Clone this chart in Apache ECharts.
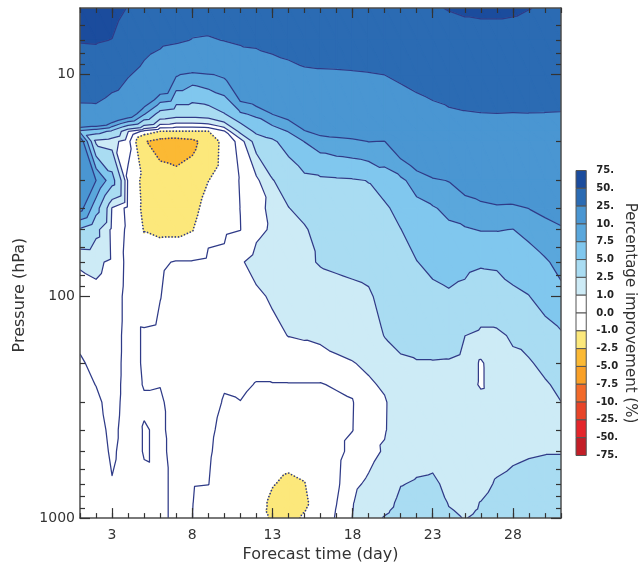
<!DOCTYPE html>
<html><head><meta charset="utf-8">
<script src="https://cdn.jsdelivr.net/npm/echarts@6/dist/echarts.min.js"></script>
<style>html,body{margin:0;padding:0;background:#fff}#chart{width:638px;height:568px}</style>
</head><body><div id="chart"></div>
<script>
// ---- data ----
const days = [1,2,3,4,5,6,7,8,9,10,11,12,13,14,15,16,17,18,19,20,21,22,23,24,25,26,27,28,29,30,31];
const pressures = [5,7,10,15,18,20,30,40,50,70,100,150,200,250,300,400,500,700,850,925,1000];
// vertical profiles of percentage improvement, one per forecast day (top 5 hPa -> bottom 1000 hPa)
const d01 = [62,51,38,20,7,12,15,11,4.6,1.1,0.65,0.2,-0.1,-0.3,-0.4,-0.5,-0.5,-0.5,-0.5,-0.5,-0.5];
const d02 = [60,51.5,38.6,20.2,6,2,10,6,3,1.2,0.8,0.5,0.2,0.02,-0.2,-0.4,-0.5,-0.6,-0.6,-0.6,-0.6];
const d03 = [58,49.5,33,15.5,4.5,1.5,6,0.9,0.7,0.8,0.6,0.5,0.45,0.4,0.35,0.25,0.15,-0.05,-0.3,-0.35,-0.4];
const d04 = [49,38,26,12.7,1.05,0.3,-0.2,-0.3,-0.2,-0.3,-0.35,-0.35,-0.35,-0.35,-0.35,-0.4,-0.4,-0.45,-0.5,-0.5,-0.5];
const d05 = [42,31,20.7,7.8,-0.3,-2.4,-1.3,-1.2,-1.05,-0.6,-0.4,0.1,0.1,0.05,-0.1,0.05,0.05,-0.15,-0.4,-0.4,-0.4];
const d06 = [36,28,16,4.0,-1.02,-3.0,-2.0,-1.6,-1.3,-0.1,-0.02,0.15,0.15,0.02,-0.1,-0.1,-0.1,-0.1,-0.1,-0.1,-0.1];
const d07 = [34,26.5,10.3,3.4,-1.05,-3.2,-2.1,-1.6,-1.3,0.05,0.3,0.4,0.4,0.35,0.3,0.2,0.15,0.1,0.1,0.1,0.1];
const d08 = [30,24.6,9,3.4,-1.05,-2.9,-1.8,-1.4,-1.05,0.05,0.35,0.4,0.4,0.35,0.3,0.2,0.1,0.05,0.02,0.01,0.01];
const d09 = [30,24.2,9.7,3.7,-1.02,-1.8,-1.02,-0.5,-0.2,0.15,0.35,0.4,0.35,0.3,0.25,0.15,0.1,0.02,-0.3,-0.35,-0.4];
const d10 = [30,25.2,10.5,4.9,-0.1,-0.6,-0.5,-0.35,-0.15,0.2,0.4,0.45,0.35,0.05,-0.05,-0.2,-0.3,-0.45,-0.5,-0.5,-0.5];
const d11 = [31,26.5,16,7.2,3.0,0.3,0.05,0.01,-0.02,0.9,0.75,0.6,0.45,0.2,-0.02,-0.3,-0.4,-0.5,-0.6,-0.6,-0.6];
const d12 = [32,27,18.5,8,5.6,3.3,0.7,0.75,0.8,1.3,0.85,0.6,0.3,-0.05,-0.3,-0.5,-0.6,-0.7,-0.8,-0.85,-0.85];
const d13 = [33,28,20.5,10.1,6.2,4.6,2.4,1.2,1.1,1.6,1.1,0.8,0.5,-0.05,-0.3,-0.6,-0.75,-0.97,-1.1,-1.1,-1.05];
const d14 = [34,29,22,11.3,7.6,6.0,3.4,2.45,1.64,1.94,1.3,1.02,0.6,-0.05,-0.4,-0.65,-0.8,-1.1,-1.25,-1.3,-1.25];
const d15 = [35,30,23.5,14,9.8,7.55,4.4,3.1,2.3,2.27,1.5,1.1,0.55,-0.05,-0.35,-0.6,-0.75,-1.02,-1.1,-1.02,-0.9];
const d16 = [35,30,23.9,15,11,8.7,4.6,3.6,3.2,2.6,1.9,1.25,0.5,-0.05,-0.3,-0.5,-0.6,-0.65,-0.7,-0.7,-0.7];
const d17 = [36,30.5,24,15,11.2,9.2,4.7,4.0,3.6,2.7,2.1,1.4,0.8,0.1,-0.2,-0.3,-0.3,-0.2,-0.02,0.05,0.1];
const d18 = [37,31,24.2,15.5,11.5,9.5,4.8,4.2,3.8,2.8,2.2,1.6,0.95,0.2,-0.05,-0.02,0.3,0.8,0.95,0.98,1.02];
const d19 = [38,31.5,24.5,16,12,10.05,5.05,4.5,4.0,3.0,2.3,1.8,1.2,0.85,0.8,0.75,0.7,1.15,1.5,1.7,1.9];
const d20 = [39,32,25.05,16.5,12.5,9.95,6.2,4.6,4.2,3.5,3.0,2.55,1.8,1.15,0.9,0.92,1.1,1.6,2.0,2.3,2.6];
const d21 = [40,33,27,18.4,14.5,12.4,7.0,5.8,4.95,4.0,3.4,2.9,2.3,1.9,1.6,1.6,1.85,2.45,2.8,2.9,3.0];
const d22 = [41,34,29,20.3,16.6,14.5,8.5,6.8,6.0,4.95,4.1,3.2,2.4,2.0,1.8,1.8,2.1,2.6,2.9,3.0,3.1];
const d23 = [48,35,31,21.9,18.4,16.4,9.6,7.3,6.6,5.5,4.5,3.3,2.4,2.1,2.0,2.0,2.2,2.65,3.0,3.05,3.1];
const d24 = [51,41,33.8,23.2,19.7,17.8,10.1,8.0,7.1,5.8,4.75,3.4,2.35,1.95,1.9,1.9,2.1,2.3,2.45,2.55,2.6];
const d25 = [53,42,34,24.2,21,19,11.5,8.7,7.3,5.6,4.4,2.52,2.1,1.85,1.8,1.8,1.9,2.1,2.3,2.4,2.48];
const d26 = [54,42,35,24.7,21.5,19.7,12.5,9.2,7.6,5.3,3.6,2.2,0.8,0.8,1.6,1.8,1.9,2.2,2.52,2.55,2.6];
const d27 = [54,42,35,24.9,21.8,20,13,9.6,7.6,5.4,3.8,2.2,1.9,1.8,1.75,1.8,2.1,2.6,2.85,2.95,3.0];
const d28 = [53,42,35,24.7,21.6,19.9,13.2,9.5,7.45,5.8,4.6,2.7,2.2,1.9,1.85,1.9,2.3,2.75,3.0,3.1,3.15];
const d29 = [50.5,41,34,24.8,22,20.4,14,10.05,8.2,6.4,4.95,3.3,2.3,2.0,1.95,2.05,2.4,2.85,3.1,3.2,3.25];
const d30 = [48,41,33.5,24.7,22,20.6,14.8,10.7,9.1,7.2,5.9,4.1,3.0,2.3,2.2,2.3,2.45,2.9,3.2,3.3,3.35];
const d31 = [47,40,33,24.5,22,20.7,15.3,11.3,9.7,8.2,6.9,4.7,3.6,2.9,2.48,2.35,2.45,3.0,3.25,3.35,3.4];

const contourLevels = [50,25,10,7.5,5,2.5,1,0,-1,-2.5,-5,-7.5,-10,-25,-50];
const bandEdges = [75,50,25,10,7.5,5,2.5,1,0,-1,-2.5,-5,-7.5,-10,-25,-50,-75];
const bandColors = ['#1b4c9d','#2b6bb3','#4a96d2','#5aa7dc','#80c7ee','#a9dcf2','#cdebf6','#ffffff','#ffffff','#fce87b','#fbb934','#f9a027','#f26a2a','#e84428','#e4262b','#c31e27'];
const colorbarLabels = ['75.','50.','25.','10.','7.5','5.0','2.5','1.0','0.0','-1.0','-2.5','-5.0','-7.5','-10.','-25.','-50.','-75.'];
const xTickDays = [3,8,13,18,23,28];
const yTickPressures = [10,100,1000];
const yMinorPressures = [6,7,8,9,20,30,40,50,60,70,80,90,200,300,400,500,600,700,800,900];

// ---- build triangles in (day, log10 p) space ----
const profiles = [d01,d02,d03,d04,d05,d06,d07,d08,d09,d10,d11,d12,d13,d14,d15,d16,d17,d18,d19,d20,d21,d22,d23,d24,d25,d26,d27,d28,d29,d30,d31];
const nodes = days.map((d, i) => pressures.map((p, j) => ({x: d, y: Math.log10(p), v: profiles[i][j]})));
const tris = [];
for (let i = 0; i < days.length - 1; i++) {
  for (let j = 0; j < pressures.length - 1; j++) {
    const A = nodes[i][j], B = nodes[i+1][j], C = nodes[i+1][j+1], D = nodes[i][j+1];
    tris.push([A, B, C], [A, C, D]);
  }
}
function clipPoly(poly, level, keepAbove) {
  const out = [];
  for (let k = 0; k < poly.length; k++) {
    const a = poly[k], b = poly[(k + 1) % poly.length];
    const ina = keepAbove ? a.v >= level : a.v <= level;
    const inb = keepAbove ? b.v >= level : b.v <= level;
    if (ina) out.push(a);
    if (ina !== inb) {
      const t = (level - a.v) / (b.v - a.v);
      out.push({x: a.x + t * (b.x - a.x), y: a.y + t * (b.y - a.y), v: level});
    }
  }
  return out;
}
const fillPolys = [];
tris.forEach(tri => {
  const vs = tri.map(n => n.v);
  const vmin = Math.min(...vs), vmax = Math.max(...vs);
  for (let k = 0; k < bandColors.length; k++) {
    const hi = k === 0 ? Infinity : bandEdges[k];
    const lo = k === bandColors.length - 1 ? -Infinity : bandEdges[k + 1];
    if (vmax < lo || vmin > hi) continue;
    let p = tri;
    if (lo > -Infinity) p = clipPoly(p, lo, true);
    if (p.length >= 3 && hi < Infinity) p = clipPoly(p, hi, false);
    if (p.length >= 3) fillPolys.push({band: k, pts: p.map(q => [q.x, q.y])});
  }
});
// contour segments, chained into polylines
function triSegment(tri, L) {
  const pts = [];
  for (let k = 0; k < 3; k++) {
    const a = tri[k], b = tri[(k + 1) % 3];
    if ((a.v >= L) !== (b.v >= L)) {
      const t = (L - a.v) / (b.v - a.v);
      pts.push([a.x + t * (b.x - a.x), a.y + t * (b.y - a.y)]);
    }
  }
  return pts.length === 2 ? pts : null;
}
const keyOf = p => p[0].toFixed(6) + '_' + p[1].toFixed(6);
function chain(segs) {
  const adj = new Map();
  segs.forEach((s, idx) => s.forEach(pt => {
    const k = keyOf(pt); if (!adj.has(k)) adj.set(k, []); adj.get(k).push(idx);
  }));
  const used = new Array(segs.length).fill(false);
  const lines = [];
  for (let s0 = 0; s0 < segs.length; s0++) {
    if (used[s0]) continue;
    used[s0] = true;
    const line = [segs[s0][0], segs[s0][1]];
    for (let dir = 0; dir < 2; dir++) {
      while (true) {
        const end = line[line.length - 1];
        const ek = keyOf(end);
        const cand = adj.get(ek).find(id => !used[id]);
        if (cand === undefined) break;
        used[cand] = true;
        const s = segs[cand];
        line.push(keyOf(s[0]) === ek ? s[1] : s[0]);
      }
      line.reverse();
    }
    lines.push(line);
  }
  return lines;
}
const contourLines = [];
contourLevels.forEach(L => {
  const segs = [];
  tris.forEach(tri => { const s = triSegment(tri, L); if (s) segs.push(s); });
  chain(segs).forEach(pts => contourLines.push({level: L, pts}));
});

// ---- chart ----
const FONT = 'DejaVu Sans';
const AX = '#4d4d4d';
const yMin = Math.log10(5), yMax = 3;
const gridMain = {left: 80, top: 8, width: 481, height: 513.5};
const baseX = {type: 'value', gridIndex: 0, min: 1, max: 31, z: 10, splitLine: {show: false}};
const baseY = {type: 'value', gridIndex: 0, min: yMin, max: yMax, inverse: true, z: 10, splitLine: {show: false}};
const tickStyle = {color: '#333', width: 1.2};

const option = {
  animation: false,
  backgroundColor: '#fff',
  grid: [gridMain, {left: 576, top: 170.5, width: 14, height: 285}],
  xAxis: [
    Object.assign({}, baseX, {position: 'bottom',
      axisLine: {show: true, onZero: false, lineStyle: {color: AX, width: 1.5}},
      axisTick: {show: true, inside: true, length: 10, customValues: xTickDays, lineStyle: tickStyle},
      axisLabel: {show: true, customValues: xTickDays, margin: 10, fontSize: 14, color: '#333', fontFamily: FONT},
      name: 'Forecast time (day)', nameLocation: 'middle', nameGap: 26,
      nameTextStyle: {fontSize: 16, color: '#333', fontFamily: FONT}}),
    Object.assign({}, baseX, {position: 'bottom', interval: 1,
      axisLine: {show: false, onZero: false},
      axisTick: {show: true, inside: true, length: 5, lineStyle: tickStyle},
      axisLabel: {show: false}}),
    Object.assign({}, baseX, {position: 'top',
      axisLine: {show: true, onZero: false, lineStyle: {color: AX, width: 1.5}},
      axisTick: {show: true, inside: true, length: 10, customValues: xTickDays, lineStyle: tickStyle},
      axisLabel: {show: false}}),
    Object.assign({}, baseX, {position: 'top', interval: 1,
      axisLine: {show: false, onZero: false},
      axisTick: {show: true, inside: true, length: 5, lineStyle: tickStyle},
      axisLabel: {show: false}}),
    {type: 'value', gridIndex: 1, min: 0, max: 1, show: false}
  ],
  yAxis: [
    Object.assign({}, baseY, {position: 'left',
      axisLine: {show: true, onZero: false, lineStyle: {color: AX, width: 1.5}},
      axisTick: {show: true, inside: true, length: 10, customValues: yTickPressures.map(Math.log10), lineStyle: tickStyle},
      axisLabel: {show: true, customValues: yTickPressures.map(Math.log10), margin: 5, fontSize: 14, color: '#333', fontFamily: FONT,
        formatter: v => String(Math.round(Math.pow(10, v)))},
      name: 'Pressure (hPa)', nameLocation: 'middle', nameGap: 52,
      nameTextStyle: {fontSize: 16, color: '#333', fontFamily: FONT, padding: [0, 64, 0, 0]}}),
    Object.assign({}, baseY, {position: 'left',
      axisLine: {show: false, onZero: false},
      axisTick: {show: true, inside: true, length: 5, customValues: yMinorPressures.map(Math.log10), lineStyle: tickStyle},
      axisLabel: {show: false}}),
    Object.assign({}, baseY, {position: 'right',
      axisLine: {show: true, onZero: false, lineStyle: {color: AX, width: 1.5}},
      axisTick: {show: true, inside: true, length: 10, customValues: yTickPressures.map(Math.log10), lineStyle: tickStyle},
      axisLabel: {show: false}}),
    Object.assign({}, baseY, {position: 'right',
      axisLine: {show: false, onZero: false},
      axisTick: {show: true, inside: true, length: 5, customValues: yMinorPressures.map(Math.log10), lineStyle: tickStyle},
      axisLabel: {show: false}}),
    {type: 'value', gridIndex: 1, min: 0, max: 16, interval: 1, inverse: true, position: 'right',
      splitLine: {show: false}, axisLine: {show: false, onZero: false}, axisTick: {show: false},
      axisLabel: {show: true, margin: 10, fontSize: 10, fontWeight: 'bold', color: '#222', fontFamily: FONT,
        formatter: v => colorbarLabels[Math.round(v)]},
      name: 'Percentage improvement (%)', nameLocation: 'middle', nameRotate: -90, nameGap: 34,
      nameTextStyle: {fontSize: 15, color: '#333', fontFamily: FONT}}
  ],
  series: [
    {
      type: 'custom', xAxisIndex: 0, yAxisIndex: 0, silent: true, clip: true, z: 1,
      dimensions: ['x', 'y', 'idx'], encode: {x: 0, y: 1},
      data: fillPolys.map((p, i) => [p.pts[0][0], p.pts[0][1], i]),
      renderItem: (params, api) => {
        const poly = fillPolys[api.value(2)];
        const c = bandColors[poly.band];
        return {type: 'polygon', shape: {points: poly.pts.map(q => api.coord(q))},
          style: {fill: c, stroke: c, lineWidth: 1.3, lineJoin: 'round'}};
      }
    },
    {
      type: 'custom', xAxisIndex: 0, yAxisIndex: 0, silent: true, clip: true, z: 2,
      dimensions: ['x', 'y', 'idx'], encode: {x: 0, y: 1},
      data: contourLines.map((l, i) => [l.pts[0][0], l.pts[0][1], i]),
      renderItem: (params, api) => {
        const line = contourLines[api.value(2)];
        const neg = line.level < 0;
        return {type: 'polyline', shape: {points: line.pts.map(q => api.coord(q))},
          style: neg
            ? {fill: 'none', stroke: '#2f3b88', lineWidth: 1.7, lineDash: [0.01, 3.2], lineCap: 'round'}
            : {fill: 'none', stroke: '#2f3b88', lineWidth: 1.25, lineJoin: 'round'}};
      }
    },
    {
      type: 'custom', xAxisIndex: 4, yAxisIndex: 4, silent: true,
      dimensions: ['x', 'y', 'idx'], encode: {x: 0, y: 1},
      data: bandColors.map((c, k) => [0.5, k + 0.5, k]),
      renderItem: (params, api) => {
        const k = api.value(2);
        const p0 = api.coord([0, k]), p1 = api.coord([1, k + 1]);
        return {type: 'rect', shape: {x: Math.min(p0[0], p1[0]), y: Math.min(p0[1], p1[1]),
          width: Math.abs(p1[0] - p0[0]), height: Math.abs(p1[1] - p0[1])},
          style: {fill: bandColors[k], stroke: '#555', lineWidth: 1}};
      }
    }
  ]
};
const chart = echarts.init(document.getElementById('chart'));
chart.setOption(option);
</script></body></html>
